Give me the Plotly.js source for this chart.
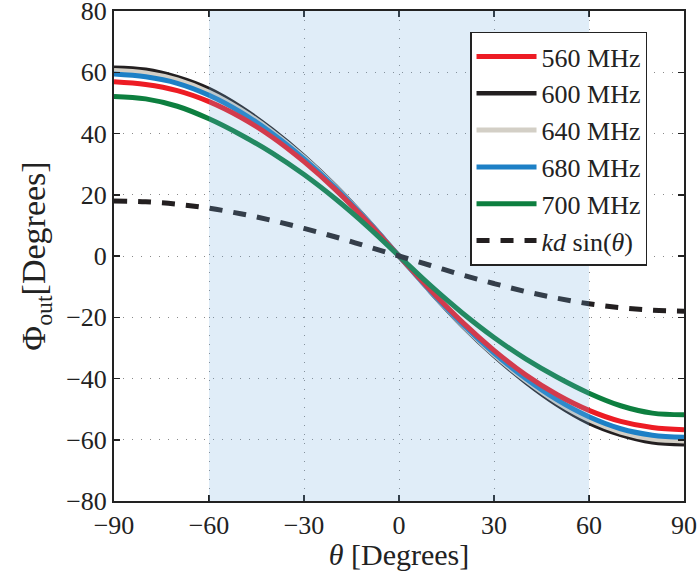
<!DOCTYPE html>
<html>
<head>
<meta charset="utf-8">
<script src="https://cdn.plot.ly/plotly-3.0.1.min.js"></script>
<style>html,body{margin:0;padding:0;background:#fff;}#chart{width:699px;height:571px;}</style>
</head>
<body>
<div id="chart"></div>
<script>
// Data
var theta = [-90,-80,-70,-60,-50,-40,-30,-20,-10,0,10,20,30,40,50,60,70,80,90];
var phi560 = [56.9,56.0,54.0,50.4,45.3,38.8,30.8,21.6,11.2,0,-11.2,-21.6,-30.8,-38.8,-45.3,-50.4,-54.0,-56.0,-56.7];
var phi600 = [61.5,60.8,58.4,54.5,48.6,41.2,32.6,22.8,11.8,0,-11.8,-22.8,-32.6,-41.2,-48.6,-54.5,-58.4,-60.8,-61.5];
var phi640 = [60.6,59.8,57.5,53.5,47.8,40.6,32.2,22.5,11.6,0,-11.6,-22.5,-32.2,-40.6,-47.8,-53.5,-57.5,-59.8,-60.4];
var phi680 = [59.4,58.5,56.4,52.5,47.0,40.0,31.7,22.2,11.5,0,-11.5,-22.2,-31.7,-40.0,-47.0,-52.5,-56.4,-58.5,-59.2];
var phi700 = [52.1,51.3,48.9,44.8,39.6,33.6,26.6,18.6,9.7,0,-9.7,-18.6,-26.6,-33.6,-39.6,-44.8,-48.9,-51.3,-51.8];
var kdSin = [18.0,17.7,16.9,15.6,13.8,11.6,9.0,6.2,3.1,0,-3.1,-6.2,-9.0,-11.6,-13.8,-15.6,-16.9,-17.7,-18.0];
var seriesNames = ['560 MHz','600 MHz','640 MHz','680 MHz','700 MHz','<i>kd</i> sin(<i>θ</i>)'];
var xTicks = [-90,-60,-30,0,30,60,90];
var yTicks = [-80,-60,-40,-20,0,20,40,60,80];
var shadeRange = [-60,60];

var serif = 'Liberation Serif, Times New Roman, Times, serif';

function line(y, name, color, width, rank, dash) {
  return {x: theta, y: y, name: name, type: 'scatter', mode: 'lines',
    line: {color: color, width: width, shape: 'spline', dash: dash || 'solid'},
    legendrank: rank};
}
var traces = [
  line(phi600, seriesNames[1], '#231f20', 4.5, 2),
  line(phi640, seriesNames[2], '#d3cfc6', 5, 3),
  line(phi680, seriesNames[3], '#1d80c6', 5, 4),
  line(phi560, seriesNames[0], '#ed1c24', 5, 1),
  line(phi700, seriesNames[4], '#0d7f3f', 5, 5),
  line(kdSin, seriesNames[5], '#231f20', 5, 6, '13px,11px')
];

var axisCommon = {
  showline: true, linewidth: 2, linecolor: '#222', mirror: 'ticks',
  ticks: 'inside', ticklen: 6, tickwidth: 1.5, tickcolor: '#222',
  showgrid: true, gridcolor: '#8a8a8a', gridwidth: 1, griddash: '1px,8px',
  zeroline: false, ticklabeloverflow: 'allow',
  tickfont: {family: serif, size: 26, color: '#222'}
};

var layout = {
  width: 699, height: 571,
  margin: {l: 114, r: 15, t: 11, b: 70},
  paper_bgcolor: '#fff', plot_bgcolor: '#fff',
  font: {family: serif, color: '#222'},
  xaxis: Object.assign({}, axisCommon, {
    range: [-90, 90], tickmode: 'array', tickvals: xTicks,
    title: {text: '<i>θ</i> [Degrees]', font: {family: serif, size: 30, color: '#222'}, standoff: 2}
  }),
  yaxis: Object.assign({}, axisCommon, {
    range: [-80, 80], tickmode: 'array', tickvals: yTicks,
    title: {text: 'Φ<sub>out</sub>[Degrees]', font: {family: serif, size: 34, color: '#222'}, standoff: 10}
  }),
  shapes: [{type: 'rect', xref: 'x', yref: 'paper', x0: shadeRange[0], x1: shadeRange[1], y0: 0, y1: 1,
    fillcolor: 'rgba(114,173,223,0.22)', line: {width: 0}, layer: 'above'}],
  legend: {x: 0.6246, y: 0.958, xanchor: 'left', yanchor: 'top',
    bgcolor: '#fff', bordercolor: '#222', borderwidth: 1.5,
    font: {family: serif, size: 26, color: '#222'},
    itemwidth: 60, tracegroupgap: 0},
  showlegend: true
};

Plotly.newPlot('chart', traces, layout, {staticPlot: true, displayModeBar: false});
</script>
</body>
</html>
